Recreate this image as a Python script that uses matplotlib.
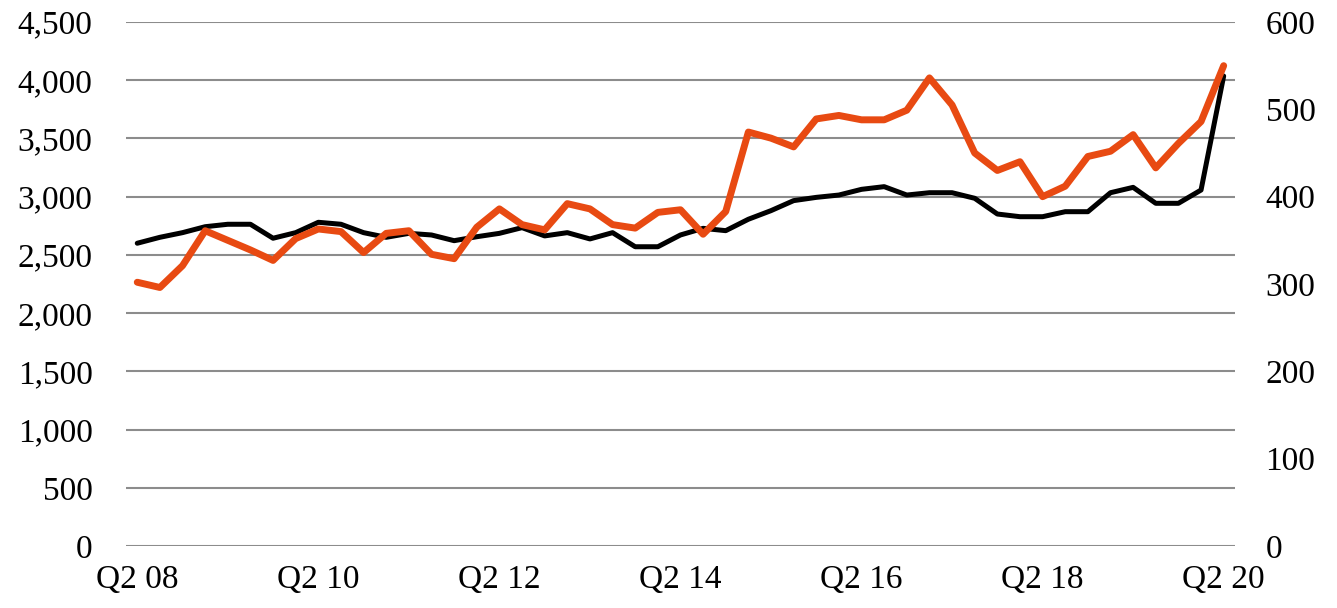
import matplotlib.pyplot as plt
from matplotlib.ticker import FuncFormatter, MultipleLocator

# quarterly series, Q2 2008 .. Q2 2020
quarters = ['Q%d %02d' % ((q % 4) + 1, 8 + (q + 1) // 4) for q in range(1, 50)]

black_vals = [2600, 2651, 2691, 2742, 2763, 2763, 2643, 2691, 2780, 2763,
              2691, 2651, 2685, 2671, 2622, 2656, 2685, 2734, 2663, 2691,
              2637, 2691, 2570, 2570, 2671, 2728, 2708, 2806, 2880, 2966,
              2994, 3014, 3063, 3086, 3014, 3034, 3034, 2986, 2851, 2828,
              2828, 2871, 2871, 3034, 3080, 2943, 2943, 3057, 4036]

orange_vals = [302, 296, 321, 361, 350, 339, 327, 352, 363, 360,
               336, 358, 361, 334, 329, 365, 386, 368, 362, 392,
               386, 368, 364, 382, 385, 357, 383, 474, 467, 457,
               489, 493, 488, 488, 499, 536, 505, 450, 430, 440,
               400, 412, 446, 452, 471, 433, 461, 486, 550]

plt.rcParams['font.family'] = ['Liberation Serif', 'DejaVu Serif']

fig = plt.figure(figsize=(13.37, 6.08), dpi=100)
ax = fig.add_axes([0.0942, 0.102, 0.8295, 0.8618])
ax2 = ax.twinx()

x = list(range(len(quarters)))
ax.plot(x, black_vals, color='black', lw=3.6, solid_joinstyle='round',
        solid_capstyle='round', zorder=3)
ax2.plot(x, orange_vals, color='#E84A12', lw=5.0, solid_joinstyle='round',
         solid_capstyle='round', zorder=3)

ax.set_xlim(-0.5, len(quarters) - 0.5)
ax.set_ylim(0, 4500)
ax2.set_ylim(0, 600)
ax.yaxis.set_major_locator(MultipleLocator(500))
ax2.yaxis.set_major_locator(MultipleLocator(100))
ax.yaxis.set_major_formatter(FuncFormatter(lambda v, p: '{:,.0f}'.format(v)))

ticks = x[::8]
ax.set_xticks(ticks)
ax.set_xticklabels([quarters[i] for i in ticks])

ax.grid(axis='y', color='#8c8c8c', lw=1.5)
ax.set_axisbelow(True)
for a in (ax, ax2):
    for s in a.spines.values():
        s.set_visible(False)
    a.tick_params(length=0, labelsize=24)
ax.tick_params(axis='y', pad=24)
ax2.tick_params(axis='y', pad=22)
ax.tick_params(axis='x', pad=13)

fig.savefig('out.png', dpi=100)
